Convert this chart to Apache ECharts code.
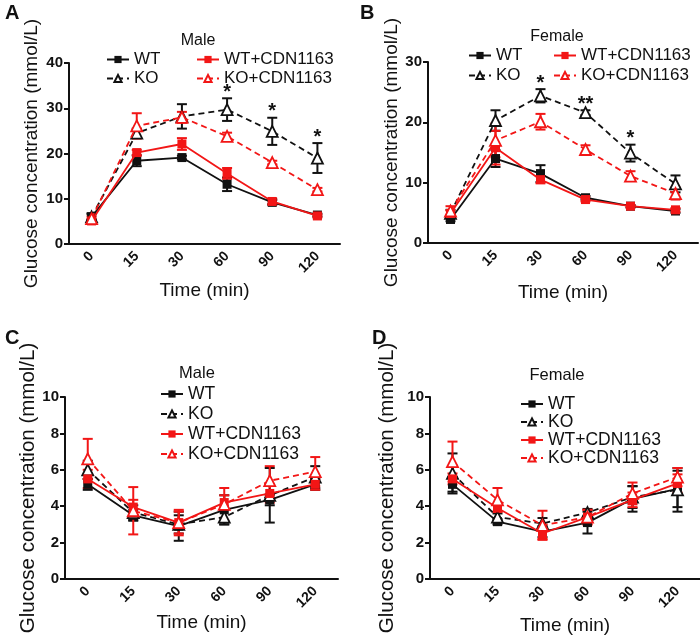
<!DOCTYPE html>
<html>
<head>
<meta charset="utf-8">
<script src="https://cdn.jsdelivr.net/npm/echarts@6/dist/echarts.min.js"></script>
<style>html,body{margin:0;padding:0;background:#fff}#c{width:700px;height:640px}</style>
</head>
<body>
<div id="c"></div>
<script>
const categories = ['0', '15', '30', '60', '90', '120'];
const seriesNames = ['WT', 'KO', 'WT+CDN1163', 'KO+CDN1163'];

// Panel A (Male, high glucose)
const wtA = [6.0, 18.4, 19.1, 13.2, 9.2, 6.4];
const wtAErr = [0.8, 1.2, 0.4, 1.5, 0.5, 0.3];
const koA = [6.0, 24.5, 28.2, 29.7, 24.9, 19.0];
const koAErr = [0.6, 1.0, 2.7, 2.5, 3.0, 3.3];
const wtcA = [5.1, 20.2, 22.1, 15.6, 9.4, 6.2];
const wtcAErr = [0.5, 0.6, 1.3, 1.2, 0.6, 0.3];
const kocA = [5.6, 26.1, 28.0, 23.8, 18.0, 12.0];
const kocAErr = [0.5, 2.8, 1.2, 0.8, 0.4, 0.4];
const starsA = ['', '', '', '*', '*', '*'];

// Panel B (Female, high glucose)
const wtB = [3.9, 14.0, 11.5, 7.5, 6.1, 5.3];
const wtBErr = [0.3, 1.4, 1.4, 0.3, 0.2, 0.3];
const koB = [4.9, 20.3, 24.4, 21.6, 14.9, 9.8];
const koBErr = [0.6, 1.7, 1.1, 0.4, 1.4, 1.4];
const wtcB = [4.9, 15.8, 10.5, 7.2, 6.1, 5.5];
const wtcBErr = [0.5, 2.8, 0.6, 0.3, 0.2, 0.3];
const kocB = [5.3, 17.0, 20.1, 15.5, 11.1, 8.2];
const kocBErr = [0.8, 2.8, 1.3, 0.7, 0.8, 1.0];
const starsB = ['', '', '*', '**', '*', ''];

// Panel C (Male)
const wtC = [5.2, 3.5, 2.9, 3.8, 4.35, 5.2];
const wtCErr = [0.3, 0.3, 0.8, 0.8, 0.3, 0.3];
const koC = [6.0, 3.65, 3.0, 3.4, 4.6, 5.6];
const koCErr = [0.5, 0.4, 0.5, 0.4, 1.5, 0.6];
const wtcC = [5.5, 3.95, 3.1, 4.2, 4.7, 5.2];
const wtcCErr = [0.5, 0.4, 0.6, 0.4, 0.5, 0.3];
const kocC = [6.6, 3.75, 3.1, 4.1, 5.4, 5.9];
const kocCErr = [1.1, 1.3, 0.7, 0.9, 0.8, 0.8];

// Panel D (Female)
const wtD = [5.2, 3.15, 2.6, 3.1, 4.4, 4.95];
const wtDErr = [0.4, 0.15, 0.3, 0.6, 0.7, 1.0];
const koD = [5.8, 3.4, 3.05, 3.65, 4.5, 4.9];
const koDErr = [1.1, 0.2, 0.3, 0.2, 0.6, 1.2];
const wtcD = [5.5, 3.9, 2.5, 3.4, 4.35, 5.25];
const wtcDErr = [0.3, 0.2, 0.3, 0.4, 0.4, 0.5];
const kocD = [6.45, 4.35, 2.95, 3.4, 4.7, 5.6];
const kocDErr = [1.1, 0.65, 0.8, 0.4, 0.6, 0.5];

const yMax = [40, 30, 10, 10];
const yInterval = [10, 10, 2, 2];

const FONT = "'Liberation Sans', Arial, sans-serif";
const BLACK = '#111111';
const RED = '#f21616';

const panels = [
  { vals: [wtA, koA, wtcA, kocA], errs: [wtAErr, koAErr, wtcAErr, kocAErr], stars: starsA },
  { vals: [wtB, koB, wtcB, kocB], errs: [wtBErr, koBErr, wtcBErr, kocBErr], stars: starsB },
  { vals: [wtC, koC, wtcC, kocC], errs: [wtCErr, koCErr, wtcCErr, kocCErr], stars: null },
  { vals: [wtD, koD, wtcD, kocD], errs: [wtDErr, koDErr, wtcDErr, kocDErr], stars: null }
];

const styles = [
  { color: BLACK, symbol: 'rect', dashed: false, fill: BLACK },
  { color: BLACK, symbol: 'triangle', dashed: true, fill: '#fff' },
  { color: RED, symbol: 'rect', dashed: false, fill: RED },
  { color: RED, symbol: 'triangle', dashed: true, fill: '#fff' }
];

const grids = [
  { left: 69, top: 63, width: 271, height: 181 },
  { left: 428, top: 62, width: 270, height: 181 },
  { left: 65, top: 397, width: 273, height: 182 },
  { left: 430, top: 397, width: 270, height: 182 }
];
const xNameGap = [37, 40, 34, 37];
const yNameGap = [28, 27, 18, 32];
const yNameSize = [19, 19, 20.5, 20.5];

const xAxes = [], yAxes = [], series = [];
grids.forEach((g, i) => {
  xAxes.push({
    type: 'category', gridIndex: i, data: categories, boundaryGap: true,
    name: 'Time (min)', nameLocation: 'middle', nameGap: xNameGap[i],
    nameTextStyle: { fontFamily: FONT, fontSize: 19, color: BLACK },
    axisLine: { lineStyle: { color: BLACK, width: 2 } },
    axisTick: { alignWithLabel: true, length: 5, lineStyle: { color: BLACK, width: 2 } },
    axisLabel: { rotate: 45, fontFamily: FONT, fontSize: 14, fontWeight: 'bold', color: BLACK, margin: 10 },
    splitLine: { show: false }
  });
  yAxes.push({
    type: 'value', gridIndex: i, min: 0, max: yMax[i], interval: yInterval[i],
    name: 'Glucose concentration (mmol/L)', nameLocation: 'middle', nameGap: yNameGap[i],
    nameTextStyle: { fontFamily: FONT, fontSize: yNameSize[i], color: BLACK },
    axisLine: { show: true, lineStyle: { color: BLACK, width: 2 } },
    axisTick: { show: true, length: 5, lineStyle: { color: BLACK, width: 2 } },
    axisLabel: { fontFamily: FONT, fontSize: 15, fontWeight: 'bold', color: BLACK, margin: 6 },
    splitLine: { show: false }
  });

  const p = panels[i];
  // error bars
  p.vals.forEach((v, s) => {
    const st = styles[s];
    series.push({
      type: 'custom', name: seriesNames[s] + '_err', xAxisIndex: i, yAxisIndex: i,
      z: 2 + s, silent: true,
      data: v.map((val, k) => [k, val, p.errs[s][k]]),
      renderItem: function (params, api) {
        const x = api.value(0), y = api.value(1), e = api.value(2);
        const top = api.coord([x, y + e]);
        const bot = api.coord([x, y - e]);
        const hw = 5;
        const ls = { stroke: st.color, lineWidth: 2 };
        return {
          type: 'group', children: [
            { type: 'line', shape: { x1: top[0], y1: top[1], x2: bot[0], y2: bot[1] }, style: ls },
            { type: 'line', shape: { x1: top[0] - hw, y1: top[1], x2: top[0] + hw, y2: top[1] }, style: ls },
            { type: 'line', shape: { x1: bot[0] - hw, y1: bot[1], x2: bot[0] + hw, y2: bot[1] }, style: ls }
          ]
        };
      }
    });
  });
  // lines
  p.vals.forEach((v, s) => {
    const st = styles[s];
    series.push({
      type: 'line', name: seriesNames[s], xAxisIndex: i, yAxisIndex: i,
      data: v, z: 10 + s,
      symbol: st.symbol, symbolSize: st.symbol === 'rect' ? 9 : 11,
      showAllSymbol: true,
      lineStyle: { color: st.color, width: 1.8, type: st.dashed ? [6, 4] : 'solid' },
      itemStyle: { color: st.fill, borderColor: st.color, borderWidth: st.symbol === 'rect' ? 0 : 1.8 },
      color: st.color,
      animation: false
    });
  });
  // significance stars
  if (p.stars) {
    series.push({
      type: 'custom', name: 'stars', xAxisIndex: i, yAxisIndex: i, z: 20, silent: true,
      data: p.stars.map((t, k) => [k, p.vals[1][k] + p.errs[1][k], t]),
      renderItem: function (params, api) {
        const pt = api.coord([api.value(0), api.value(1)]);
        const txt = p.stars[params.dataIndex];
        return {
          type: 'text', x: pt[0], y: pt[1] + 4,
          style: { text: txt, fill: BLACK, font: 'bold 20px ' + FONT, textAlign: 'center', textVerticalAlign: 'bottom' }
        };
      }
    });
  }
});

const legendBase = {
  orient: 'vertical', itemWidth: 22, itemHeight: 9, itemGap: 4, selectedMode: false,
  textStyle: { fontFamily: FONT, fontSize: 17, color: BLACK }
};
function lg(obj) { return Object.assign({}, legendBase, obj); }
const bigText = { fontFamily: FONT, fontSize: 17.5, color: BLACK };

const option = {
  animation: false,
  backgroundColor: '#fff',
  title: [
    { text: 'A', left: 0, top: -2, textStyle: { fontFamily: FONT, fontSize: 20, fontWeight: 'bold', color: BLACK } },
    { text: 'B', left: 355, top: -2, textStyle: { fontFamily: FONT, fontSize: 20, fontWeight: 'bold', color: BLACK } },
    { text: 'C', left: 0, top: 323, textStyle: { fontFamily: FONT, fontSize: 20, fontWeight: 'bold', color: BLACK } },
    { text: 'D', left: 367, top: 323, textStyle: { fontFamily: FONT, fontSize: 20, fontWeight: 'bold', color: BLACK } },
    { text: 'Male', left: 193, top: 28, textAlign: 'center', textStyle: { fontFamily: FONT, fontSize: 16, fontWeight: 'normal', color: BLACK } },
    { text: 'Female', left: 552, top: 24, textAlign: 'center', textStyle: { fontFamily: FONT, fontSize: 16, fontWeight: 'normal', color: BLACK } },
    { text: 'Male', left: 192, top: 360, textAlign: 'center', textStyle: { fontFamily: FONT, fontSize: 16.5, fontWeight: 'normal', color: BLACK } },
    { text: 'Female', left: 552, top: 362, textAlign: 'center', textStyle: { fontFamily: FONT, fontSize: 16.5, fontWeight: 'normal', color: BLACK } }
  ],
  legend: [
    lg({ left: 101, top: 46, data: ['WT', 'KO'], itemGap: 2 }),
    lg({ left: 191, top: 46, data: ['WT+CDN1163', 'KO+CDN1163'], itemGap: 2 }),
    lg({ left: 463, top: 42, data: ['WT', 'KO'], itemGap: 3 }),
    lg({ left: 548, top: 42, data: ['WT+CDN1163', 'KO+CDN1163'], itemGap: 3 }),
    lg({ left: 155, top: 380, data: seriesNames, itemGap: 2, textStyle: bigText }),
    lg({ left: 515, top: 390, data: seriesNames, itemGap: 0, textStyle: bigText })
  ],
  grid: grids,
  xAxis: xAxes,
  yAxis: yAxes,
  series: series
};

const chart = echarts.init(document.getElementById('c'), null, { renderer: 'canvas' });
chart.setOption(option);
</script>
</body>
</html>
